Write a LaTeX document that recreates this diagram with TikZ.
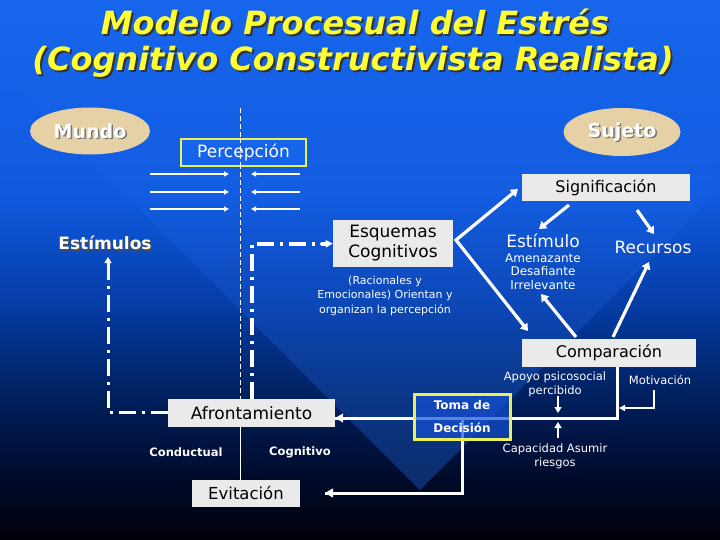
\documentclass[tikz,border=0pt]{standalone}
\usepackage{fontspec}
\setmainfont{DejaVu Sans}
\usetikzlibrary{shapes.geometric,arrows.meta,fadings}
\definecolor{bgtop}{RGB}{22,100,235}
\definecolor{bglight}{RGB}{40,115,245}
\definecolor{tanc}{RGB}{230,208,166}
\definecolor{boxgrey}{RGB}{234,234,234}
\definecolor{yborder}{RGB}{232,240,90}
\definecolor{tyellow}{RGB}{255,255,51}
\definecolor{tabfill}{RGB}{20,80,210}
\pgfdeclareverticalshading{bgshade}{100bp}{
  rgb(0bp)=(0,0,0.04);
  rgb(25bp)=(0,0,0.04);
  rgb(30.5bp)=(0,0.04,0.16);
  rgb(38bp)=(0,0.12,0.36);
  rgb(47.2bp)=(0.02,0.24,0.66);
  rgb(56.5bp)=(0.06,0.35,0.87);
  rgb(75bp)=(0.09,0.40,0.93);
  rgb(100bp)=(0.09,0.40,0.93)}
\tikzfading[name=fadeupward, top color=transparent!100, bottom color=transparent!0]
\begin{document}
\begin{tikzpicture}[x=1pt,y=-1pt,
  gbox/.style={fill=boxgrey, draw=none, inner sep=0pt, text=black, align=center, font=\fontsize{17}{20}\selectfont},
  ell/.style={ellipse, fill=tanc, draw=none, inner sep=0pt},
  wtxt/.style={text=white, align=center, inner sep=0pt},
  shtxt/.style={text=black!75, align=center, inner sep=0pt},
  thinarr/.style={white, line width=1.3pt, -{Triangle[length=5pt,width=5pt]}},
  thickarr/.style={white, line width=3.2pt, -{Triangle[length=7pt,width=9pt]}},
  midarr/.style={white, line width=2.2pt, -{Triangle[length=6pt,width=7pt]}},
  dashdot/.style={white, line width=3.5pt, dash pattern=on 17pt off 6pt on 3pt off 6pt},
  ttl/.style={font=\bfseries\itshape\fontsize{32}{32}\selectfont, inner sep=0pt}
]
\useasboundingbox (0,0) rectangle (720,540);
\shade[shading=bgshade] (0,0) rectangle (720,540);
\fill[bglight, opacity=0.35, path fading=fadeupward] (0,70) -- (420,490) -- (720,190) -- (720,0) -- (0,0) -- cycle;

% Title
\node[ttl, text=black!80] (t1s) at (357,24) {Modelo Procesual del Estrés};
\node[ttl, text=tyellow] (t1) at (355,22) {Modelo Procesual del Estrés};
\node[ttl, text=black!80] (t2s) at (355,64) {(Cognitivo Constructivista Realista)};
\node[ttl, text=tyellow] (t2) at (353,62) {(Cognitivo Constructivista Realista)};

% Ellipses
\node[ell, minimum width=120pt, minimum height=47pt] (mundo) at (90,131) {};
\node[shtxt, font=\bfseries\fontsize{19}{19}\selectfont, text=black!55] (mundos) at (91.5,132.5) {Mundo};
\node[wtxt, font=\bfseries\fontsize{19}{19}\selectfont] (mundot) at (90,131) {Mundo};
\node[ell, minimum width=117pt, minimum height=48pt] (sujeto) at (622,132) {};
\node[shtxt, font=\bfseries\fontsize{19}{19}\selectfont, text=black!55] (sujetos) at (623.5,133.5) {Sujeto};
\node[wtxt, font=\bfseries\fontsize{19}{19}\selectfont] (sujetot) at (622,132) {Sujeto};

% vertical divider
\coordinate (vtop) at (240,108);
\draw[white, line width=0.9pt, dash pattern=on 5pt off 3pt] (vtop) -- (240,399);

% Percepcion
\node[draw=yborder, line width=2.2pt, fill=bgtop, minimum width=125pt, minimum height=27pt, inner sep=0pt, text=white, font=\fontsize{17}{17}\selectfont] (perc) at (243.5,152.5) {Percepción};
\draw[white, line width=0.9pt, dash pattern=on 5pt off 3pt] (240,138) -- (240,167);

% perception arrows
\foreach \i/\y in {1/174,2/192,3/209}{
  \coordinate (la\i) at (150,\y); \coordinate (lb\i) at (229,\y);
  \coordinate (ra\i) at (300,\y); \coordinate (rb\i) at (251,\y);
  \draw[thinarr] (la\i) -- (lb\i);
  \draw[thinarr] (ra\i) -- (rb\i);
}

% Estimulos
\node[shtxt, font=\bfseries\fontsize{17}{17}\selectfont, text=black!70] (estss) at (106.5,244.5) {Estímulos};
\node[wtxt, font=\bfseries\fontsize{17}{17}\selectfont] (ests) at (105,243) {Estímulos};

% Esquemas
\node[gbox, minimum width=120pt, minimum height=47pt] (esq) at (393,243.5) {Esquemas\\Cognitivos};
\node[wtxt, font=\fontsize{11}{14.5}\selectfont] (esqsub) at (385,295.5) {(Racionales y\\Emocionales) Orientan y\\organizan la percepción};

% Significacion
\node[gbox, minimum width=168pt, minimum height=27pt, font=\fontsize{16}{16}\selectfont] (sig) at (606,187.5) {Significación};
\node[wtxt, font=\fontsize{17}{17}\selectfont] (estim) at (543,241) {Estímulo};
\node[wtxt, font=\fontsize{12}{13.5}\selectfont] (estimsub) at (543,271.5) {Amenazante\\Desafiante\\Irrelevante};
\node[wtxt, font=\fontsize{17}{17}\selectfont] (rec) at (653,247) {Recursos};

% Comparacion
\node[gbox, minimum width=174pt, minimum height=28pt, font=\fontsize{16}{16}\selectfont] (comp) at (609,353) {Comparación};

% arrows from esquemas
\coordinate (apex) at (456,240);
\coordinate (sigp) at (518,189);
\coordinate (compp) at (528,331);
\draw[white, line width=3.2pt, {Triangle[length=7pt,width=9pt]}-{Triangle[length=7pt,width=9pt]}, line join=miter] (sigp) -- (apex) -- (compp);
\coordinate (s1a) at (569,205); \coordinate (s1b) at (539,229);
\coordinate (s2a) at (637,210); \coordinate (s2b) at (654,234);
\draw[thickarr] (s1a) -- (s1b);
\draw[thickarr] (s2a) -- (s2b);
\coordinate (c1a) at (576,337); \coordinate (c1b) at (541,294);
\coordinate (c2a) at (613,337); \coordinate (c2b) at (649,262);
\draw[thickarr] (c1a) -- (c1b);
\draw[thickarr] (c2a) -- (c2b);

% Afrontamiento and Evitacion
\node[gbox, minimum width=167pt, minimum height=28pt] (afr) at (251.5,413) {Afrontamiento};
\node[gbox, minimum width=108pt, minimum height=27pt, font=\fontsize{16.5}{16.5}\selectfont] (evi) at (246,493.5) {Evitación};
\draw[white, line width=1pt] (240,427) -- (240,480);
\node[wtxt, font=\bfseries\fontsize{11.5}{11.5}\selectfont] (cond) at (186,452) {Conductual};
\node[wtxt, font=\bfseries\fontsize{11.5}{11.5}\selectfont] (cogn) at (300,452) {Cognitivo};

% dash-dot loops
\coordinate (l1) at (108,412);
\coordinate (l2) at (108,257);
\draw[dashdot, line width=3pt] (afr.west |- l1) -- (l1) -- (l2);
\draw[white, line width=1pt, -{Triangle[length=6pt,width=7pt]}] (108,264) -- (108,257);
\coordinate (r1) at (252,399);
\coordinate (r2) at (252,244);
\coordinate (r3) at (327,244);
\draw[dashdot, line width=4pt] (r1) -- (r2) -- (r3);
\draw[white, line width=2pt, -{Triangle[length=7pt,width=7pt]}] (320,244) -- (esq.west);

% Toma de decision lines
\coordinate (k1) at (617,367);
\coordinate (k2) at (617,418);
\coordinate (k3) at (462,418);
\coordinate (k4) at (462,493);
\coordinate (k5) at (325,493);
\draw[white, line width=3pt, line join=miter] (k1) -- (k2) -- (afr.east |- k2);
\draw[white, line width=1pt, -{Triangle[length=8pt,width=9pt]}] (345,418) -- (afr.east |- k2);
\draw[white, line width=3pt, line join=miter] (k3) -- (k4) -- (k5);
\draw[white, line width=1pt, -{Triangle[length=8pt,width=9pt]}] (335,493) -- (k5);

\node[draw=yborder, line width=3pt, fill=tabfill, fill opacity=0.7, minimum width=96pt, minimum height=45pt, inner sep=0pt] (toma) at (462.5,417) {};
\node[wtxt, font=\bfseries\fontsize{12}{12}\selectfont] (toma1) at (462,405) {Toma de};
\node[wtxt, font=\bfseries\fontsize{12}{12}\selectfont] (toma2) at (462,427.5) {Decisión};

% labels around
\node[wtxt, font=\fontsize{11.5}{14}\selectfont] (apoyo) at (555,384.5) {Apoyo psicosocial\\percibido};
\node[wtxt, font=\fontsize{11.5}{14}\selectfont] (motiv) at (660,380) {Motivación};
\node[wtxt, font=\fontsize{11.5}{14}\selectfont] (capac) at (555,456.5) {Capacidad Asumir\\riesgos};
\coordinate (a1) at (558,396); \coordinate (a2) at (558,413);
\coordinate (b1) at (558,438); \coordinate (b2) at (558,422);
\draw[midarr] (a1) -- (a2);
\draw[midarr] (b1) -- (b2);
\coordinate (m1) at (654,390); \coordinate (m2) at (654,408); \coordinate (m3) at (619,408);
\draw[white, line width=1.6pt, -{Triangle[length=6pt,width=6pt]}] (m1) -- (m2) -- (m3);
\end{tikzpicture}
\end{document}
